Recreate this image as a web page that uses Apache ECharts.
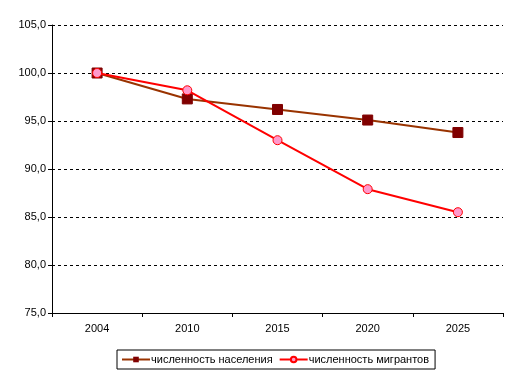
<!DOCTYPE html>
<html><head><meta charset="utf-8">
<script src="https://cdn.jsdelivr.net/npm/echarts@6/dist/echarts.min.js"></script>
<style>html,body{margin:0;padding:0;background:#fff}#c{width:518px;height:380px}</style>
</head><body><div id="c"></div>
<script>
const categories = ['2004','2010','2015','2020','2025'];
const population = [100.0, 97.3, 96.2, 95.1, 93.8];
const migrants = [100.0, 98.2, 93.0, 87.9, 85.5];
const seriesNames = ['численность населения','численность мигрантов'];

const chart = echarts.init(document.getElementById('c'));
chart.setOption({
  animation:false,
  textStyle:{fontFamily:'Liberation Sans, Arial, sans-serif'},
  grid:{left:52,right:15,top:25,bottom:67},
  xAxis:{type:'category',data:categories,boundaryGap:true,
    axisLine:{lineStyle:{color:'#000',width:1}},
    axisTick:{show:true,length:4,lineStyle:{color:'#000'}},
    axisLabel:{color:'#000',fontSize:11,margin:10},
    splitLine:{show:false}},
  yAxis:{type:'value',min:75,max:105,interval:5,
    axisLine:{show:true,lineStyle:{color:'#000',width:1}},
    axisTick:{show:true,length:4,lineStyle:{color:'#000'}},
    axisLabel:{color:'#000',fontSize:11,margin:6,formatter:v=>v.toFixed(1).replace('.',',')},
    splitLine:{show:true,lineStyle:{color:'#000',type:[3,3],width:1}}},
  legend:{bottom:11,left:117,itemWidth:28,itemHeight:7,itemGap:6,
    borderColor:'#000',borderWidth:1,padding:[4,6,4,4],
    textStyle:{color:'#000',fontSize:11,padding:[0,0,0,-4]},
    data:seriesNames},
  series:[
    {name:seriesNames[0],type:'line',data:population,
     lineStyle:{color:'#993300',width:2},
     itemStyle:{color:'#800000',borderColor:'#800000'},
     symbol:'rect',symbolSize:10,z:2},
    {name:seriesNames[1],type:'line',data:migrants,
     lineStyle:{color:'#ff0000',width:2},
     itemStyle:{color:'#ff99cc',borderColor:'#ff0000',borderWidth:1},
     symbol:'circle',symbolSize:9,z:3}
  ]
});
</script></body></html>
